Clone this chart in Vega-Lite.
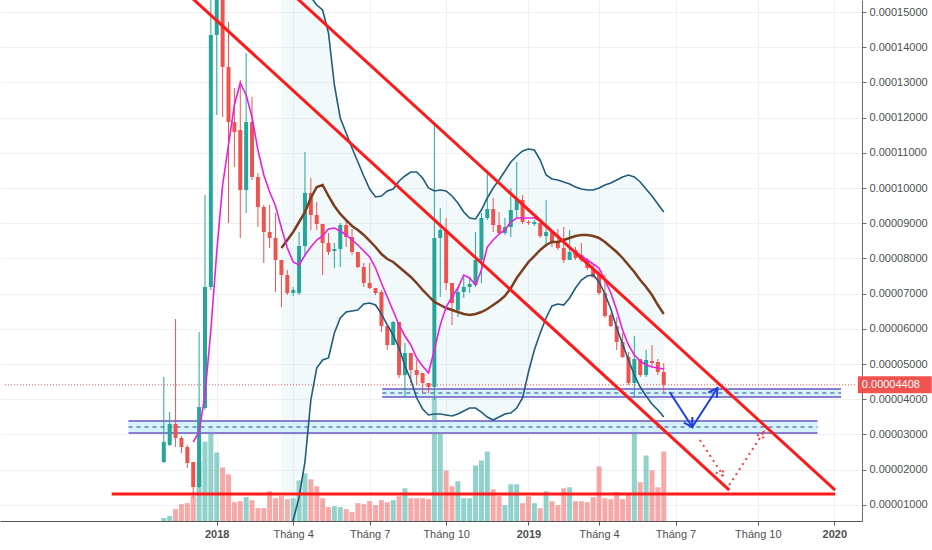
{
  "$schema": "https://vega.github.io/schema/vega-lite/v6.json",
  "width": 862,
  "height": 521,
  "autosize": {"type": "none"},
  "padding": {"left": 0, "top": 0, "right": 70, "bottom": 29},
  "background": "white",
  "config": {
    "view": {"stroke": null},
    "font": "Liberation Sans",
    "axis": {"labelFont": "Liberation Sans"}
  },
  "datasets": {
    "candles": [
      {"d": "2017-10-30", "o": 2216, "h": 4631, "l": 2188, "c": 2784, "v": 3, "ema": null},
      {"d": "2017-11-06", "o": 2699, "h": 3637, "l": 2670, "c": 3296, "v": 5, "ema": null},
      {"d": "2017-11-13", "o": 3296, "h": 6279, "l": 2642, "c": 2898, "v": 12, "ema": null},
      {"d": "2017-11-20", "o": 2898, "h": 2950, "l": 2472, "c": 2642, "v": 17, "ema": null},
      {"d": "2017-11-27", "o": 2642, "h": 2700, "l": 2045, "c": 2188, "v": 18, "ema": null},
      {"d": "2017-12-04", "o": 2216, "h": 2216, "l": 1222, "c": 1506, "v": 25, "ema": 2784},
      {"d": "2017-12-11", "o": 1506, "h": 5909, "l": 1477, "c": 3779, "v": 60, "ema": 3068},
      {"d": "2017-12-18", "o": 3750, "h": 9801, "l": 3700, "c": 7188, "v": 80, "ema": 4119},
      {"d": "2017-12-25", "o": 7188, "h": 15600, "l": 7100, "c": 14347, "v": 96, "ema": 5966},
      {"d": "2018-01-01", "o": 14347, "h": 16500, "l": 12074, "c": 15800, "v": 69, "ema": 8182},
      {"d": "2018-01-08", "o": 15800, "h": 16200, "l": 12017, "c": 13438, "v": 54, "ema": 10086},
      {"d": "2018-01-15", "o": 13438, "h": 14716, "l": 9006, "c": 11875, "v": 47, "ema": 11222},
      {"d": "2018-01-22", "o": 11875, "h": 12841, "l": 10597, "c": 11591, "v": 19, "ema": 12358},
      {"d": "2018-01-29", "o": 11648, "h": 13069, "l": 8580, "c": 9944, "v": 20, "ema": 12983},
      {"d": "2018-02-05", "o": 9944, "h": 13836, "l": 9290, "c": 11875, "v": 24, "ema": 12642},
      {"d": "2018-02-12", "o": 11875, "h": 12586, "l": 10228, "c": 10313, "v": 21, "ema": 12017},
      {"d": "2018-02-19", "o": 10313, "h": 10427, "l": 8893, "c": 9461, "v": 13, "ema": 11080},
      {"d": "2018-02-26", "o": 9461, "h": 9518, "l": 7870, "c": 8750, "v": 13, "ema": 10370},
      {"d": "2018-03-05", "o": 8750, "h": 9518, "l": 8296, "c": 8580, "v": 30, "ema": 9887},
      {"d": "2018-03-12", "o": 8580, "h": 9290, "l": 7046, "c": 7955, "v": 23, "ema": 9489},
      {"d": "2018-03-19", "o": 7955, "h": 7955, "l": 6620, "c": 7529, "v": 25, "ema": 8864},
      {"d": "2018-03-26", "o": 7529, "h": 7670, "l": 6960, "c": 7017, "v": 22, "ema": 8296},
      {"d": "2018-04-02", "o": 7017, "h": 7188, "l": 6932, "c": 7103, "v": 23, "ema": 7898},
      {"d": "2018-04-09", "o": 7017, "h": 8750, "l": 6960, "c": 8352, "v": 41, "ema": 7813},
      {"d": "2018-04-16", "o": 8352, "h": 11023, "l": 8040, "c": 9858, "v": 48, "ema": 8097},
      {"d": "2018-04-23", "o": 9858, "h": 10285, "l": 8807, "c": 9233, "v": 42, "ema": 8324},
      {"d": "2018-04-30", "o": 9233, "h": 9603, "l": 8807, "c": 8978, "v": 35, "ema": 8523},
      {"d": "2018-05-07", "o": 8978, "h": 8978, "l": 7529, "c": 8438, "v": 23, "ema": 8637},
      {"d": "2018-05-14", "o": 8438, "h": 8722, "l": 8097, "c": 8182, "v": 14, "ema": 8836},
      {"d": "2018-05-21", "o": 8210, "h": 8438, "l": 7728, "c": 8267, "v": 15, "ema": 8864},
      {"d": "2018-05-28", "o": 8267, "h": 9006, "l": 7756, "c": 8949, "v": 14, "ema": 8779},
      {"d": "2018-06-04", "o": 8949, "h": 9091, "l": 8324, "c": 8608, "v": 12, "ema": 8665},
      {"d": "2018-06-11", "o": 8608, "h": 8835, "l": 8097, "c": 8182, "v": 9, "ema": 8523},
      {"d": "2018-06-18", "o": 8182, "h": 8182, "l": 7728, "c": 7756, "v": 18, "ema": 8381},
      {"d": "2018-06-25", "o": 7756, "h": 7870, "l": 7188, "c": 7301, "v": 17, "ema": 8210},
      {"d": "2018-07-02", "o": 7301, "h": 7870, "l": 7130, "c": 7159, "v": 20, "ema": 8040},
      {"d": "2018-07-09", "o": 7159, "h": 7159, "l": 6960, "c": 7017, "v": 16, "ema": 7728},
      {"d": "2018-07-16", "o": 7046, "h": 7102, "l": 5909, "c": 6080, "v": 21, "ema": 7301},
      {"d": "2018-07-23", "o": 6080, "h": 6080, "l": 5398, "c": 5540, "v": 19, "ema": 6904},
      {"d": "2018-07-30", "o": 5540, "h": 6222, "l": 5540, "c": 6193, "v": 21, "ema": 6506},
      {"d": "2018-08-06", "o": 6193, "h": 6193, "l": 4602, "c": 4688, "v": 25, "ema": 6108},
      {"d": "2018-08-13", "o": 4688, "h": 5597, "l": 4063, "c": 5313, "v": 33, "ema": 5796},
      {"d": "2018-08-20", "o": 5313, "h": 5313, "l": 4460, "c": 4830, "v": 23, "ema": 5540},
      {"d": "2018-08-27", "o": 4830, "h": 5114, "l": 4404, "c": 4688, "v": 23, "ema": 5171},
      {"d": "2018-09-03", "o": 4744, "h": 4744, "l": 4176, "c": 4460, "v": 23, "ema": 4943},
      {"d": "2018-09-10", "o": 4460, "h": 4460, "l": 4176, "c": 4347, "v": 22, "ema": 4744},
      {"d": "2018-09-17", "o": 4347, "h": 11790, "l": 3977, "c": 8580, "v": 132, "ema": 5398},
      {"d": "2018-09-24", "o": 8580, "h": 9432, "l": 6904, "c": 8807, "v": 88, "ema": 6108},
      {"d": "2018-10-01", "o": 8807, "h": 9148, "l": 7102, "c": 7301, "v": 51, "ema": 6620},
      {"d": "2018-10-08", "o": 7301, "h": 7301, "l": 6108, "c": 6733, "v": 35, "ema": 6904},
      {"d": "2018-10-15", "o": 6534, "h": 7188, "l": 6335, "c": 7046, "v": 40, "ema": 7159},
      {"d": "2018-10-22", "o": 7046, "h": 7472, "l": 6875, "c": 7188, "v": 23, "ema": 7529},
      {"d": "2018-10-29", "o": 7188, "h": 7472, "l": 7017, "c": 7273, "v": 23, "ema": 7443},
      {"d": "2018-11-05", "o": 7244, "h": 8750, "l": 7188, "c": 7955, "v": 56, "ema": 7245},
      {"d": "2018-11-12", "o": 7955, "h": 9290, "l": 7301, "c": 9148, "v": 61, "ema": 7671},
      {"d": "2018-11-19", "o": 9148, "h": 10512, "l": 9091, "c": 9404, "v": 70, "ema": 8324},
      {"d": "2018-11-26", "o": 9404, "h": 9716, "l": 8750, "c": 8949, "v": 32, "ema": 8523},
      {"d": "2018-12-03", "o": 8949, "h": 9318, "l": 8665, "c": 8722, "v": 25, "ema": 8693},
      {"d": "2018-12-10", "o": 8722, "h": 9148, "l": 8665, "c": 8892, "v": 16, "ema": 8807},
      {"d": "2018-12-17", "o": 8892, "h": 10000, "l": 8608, "c": 9375, "v": 37, "ema": 9034},
      {"d": "2018-12-24", "o": 9375, "h": 10739, "l": 9176, "c": 9659, "v": 37, "ema": 9148},
      {"d": "2018-12-31", "o": 9659, "h": 9801, "l": 8978, "c": 9034, "v": 18, "ema": 9148},
      {"d": "2019-01-07", "o": 9034, "h": 9091, "l": 8949, "c": 9006, "v": 25, "ema": 9148},
      {"d": "2019-01-14", "o": 8978, "h": 9091, "l": 8921, "c": 9034, "v": 18, "ema": 9148},
      {"d": "2019-01-21", "o": 9006, "h": 9091, "l": 8580, "c": 8637, "v": 13, "ema": 9063},
      {"d": "2019-01-28", "o": 8637, "h": 9659, "l": 8324, "c": 8750, "v": 30, "ema": 8892},
      {"d": "2019-02-04", "o": 8750, "h": 8807, "l": 8324, "c": 8438, "v": 20, "ema": 8750},
      {"d": "2019-02-11", "o": 8466, "h": 8835, "l": 8239, "c": 8296, "v": 16, "ema": 8637},
      {"d": "2019-02-18", "o": 8296, "h": 8892, "l": 7870, "c": 7955, "v": 33, "ema": 8495},
      {"d": "2019-02-25", "o": 7955, "h": 8807, "l": 7955, "c": 8182, "v": 34, "ema": 8324},
      {"d": "2019-03-04", "o": 8239, "h": 8324, "l": 7955, "c": 8011, "v": 20, "ema": 8182},
      {"d": "2019-03-11", "o": 8097, "h": 8438, "l": 7898, "c": 7955, "v": 20, "ema": 8068},
      {"d": "2019-03-18", "o": 7955, "h": 8011, "l": 7671, "c": 7728, "v": 19, "ema": 7955},
      {"d": "2019-03-25", "o": 7728, "h": 7813, "l": 7443, "c": 7472, "v": 24, "ema": 7841},
      {"d": "2019-04-01", "o": 7529, "h": 7671, "l": 6960, "c": 7017, "v": 55, "ema": 7728},
      {"d": "2019-04-08", "o": 7017, "h": 7529, "l": 6307, "c": 6364, "v": 23, "ema": 7387},
      {"d": "2019-04-15", "o": 6392, "h": 6449, "l": 6051, "c": 6080, "v": 22, "ema": 7017},
      {"d": "2019-04-22", "o": 6080, "h": 6335, "l": 5398, "c": 5625, "v": 29, "ema": 6534},
      {"d": "2019-04-29", "o": 5625, "h": 5881, "l": 5171, "c": 5199, "v": 22, "ema": 5966},
      {"d": "2019-05-06", "o": 5199, "h": 5341, "l": 4404, "c": 4460, "v": 28, "ema": 5540},
      {"d": "2019-05-13", "o": 4460, "h": 5796, "l": 4063, "c": 5142, "v": 96, "ema": 5256},
      {"d": "2019-05-20", "o": 5142, "h": 5142, "l": 4631, "c": 4688, "v": 39, "ema": 5085},
      {"d": "2019-05-27", "o": 4688, "h": 5398, "l": 4631, "c": 5114, "v": 66, "ema": 4972},
      {"d": "2019-06-03", "o": 5085, "h": 5540, "l": 4915, "c": 5028, "v": 51, "ema": 4915},
      {"d": "2019-06-10", "o": 5057, "h": 5142, "l": 4688, "c": 4773, "v": 34, "ema": 4887},
      {"d": "2019-06-17", "o": 4773, "h": 5028, "l": 4205, "c": 4408, "v": 70, "ema": 4858}
    ],
    "bands": [
      {"d": "2018-03-19", "bbu": 19603, "bbm": 8296, "bbl": -2273},
      {"d": "2018-03-26", "bbu": 18182, "bbm": 8523, "bbl": -568},
      {"d": "2018-04-02", "bbu": 17046, "bbm": 8750, "bbl": 568},
      {"d": "2018-04-09", "bbu": 16336, "bbm": 9034, "bbl": 1222},
      {"d": "2018-04-16", "bbu": 15768, "bbm": 9318, "bbl": 2216},
      {"d": "2018-04-23", "bbu": 15427, "bbm": 9716, "bbl": 3977},
      {"d": "2018-04-30", "bbu": 15199, "bbm": 10029, "bbl": 4887},
      {"d": "2018-05-07", "bbu": 15057, "bbm": 10086, "bbl": 5114},
      {"d": "2018-05-14", "bbu": 14404, "bbm": 9773, "bbl": 5171},
      {"d": "2018-05-21", "bbu": 12927, "bbm": 9489, "bbl": 5881},
      {"d": "2018-05-28", "bbu": 11989, "bbm": 9262, "bbl": 6307},
      {"d": "2018-06-04", "bbu": 11563, "bbm": 9091, "bbl": 6477},
      {"d": "2018-06-11", "bbu": 11137, "bbm": 8921, "bbl": 6506},
      {"d": "2018-06-18", "bbu": 10739, "bbm": 8807, "bbl": 6534},
      {"d": "2018-06-25", "bbu": 10341, "bbm": 8665, "bbl": 6705},
      {"d": "2018-07-02", "bbu": 9972, "bbm": 8495, "bbl": 6733},
      {"d": "2018-07-09", "bbu": 9745, "bbm": 8324, "bbl": 6676},
      {"d": "2018-07-16", "bbu": 9773, "bbm": 8125, "bbl": 6421},
      {"d": "2018-07-23", "bbu": 9915, "bbm": 7983, "bbl": 6108},
      {"d": "2018-07-30", "bbu": 9972, "bbm": 7898, "bbl": 5824},
      {"d": "2018-08-06", "bbu": 10199, "bbm": 7756, "bbl": 5455},
      {"d": "2018-08-13", "bbu": 10341, "bbm": 7614, "bbl": 4943},
      {"d": "2018-08-20", "bbu": 10455, "bbm": 7472, "bbl": 4546},
      {"d": "2018-08-27", "bbu": 10455, "bbm": 7301, "bbl": 4034},
      {"d": "2018-09-03", "bbu": 10284, "bbm": 7103, "bbl": 3722},
      {"d": "2018-09-10", "bbu": 10000, "bbm": 6932, "bbl": 3551},
      {"d": "2018-09-17", "bbu": 9915, "bbm": 6762, "bbl": 3580},
      {"d": "2018-09-24", "bbu": 9944, "bbm": 6676, "bbl": 3580},
      {"d": "2018-10-01", "bbu": 9915, "bbm": 6591, "bbl": 3551},
      {"d": "2018-10-08", "bbu": 9773, "bbm": 6534, "bbl": 3523},
      {"d": "2018-10-15", "bbu": 9574, "bbm": 6477, "bbl": 3580},
      {"d": "2018-10-22", "bbu": 9318, "bbm": 6421, "bbl": 3665},
      {"d": "2018-10-29", "bbu": 9148, "bbm": 6392, "bbl": 3750},
      {"d": "2018-11-05", "bbu": 9120, "bbm": 6421, "bbl": 3750},
      {"d": "2018-11-12", "bbu": 9375, "bbm": 6477, "bbl": 3636},
      {"d": "2018-11-19", "bbu": 9716, "bbm": 6563, "bbl": 3494},
      {"d": "2018-11-26", "bbu": 10000, "bbm": 6676, "bbl": 3409},
      {"d": "2018-12-03", "bbu": 10228, "bbm": 6790, "bbl": 3494},
      {"d": "2018-12-10", "bbu": 10483, "bbm": 6932, "bbl": 3580},
      {"d": "2018-12-17", "bbu": 10739, "bbm": 7159, "bbl": 3608},
      {"d": "2018-12-24", "bbu": 10909, "bbm": 7443, "bbl": 3750},
      {"d": "2018-12-31", "bbu": 11051, "bbm": 7671, "bbl": 4034},
      {"d": "2019-01-07", "bbu": 11108, "bbm": 7898, "bbl": 4773},
      {"d": "2019-01-14", "bbu": 11080, "bbm": 8068, "bbl": 5398},
      {"d": "2019-01-21", "bbu": 10796, "bbm": 8239, "bbl": 5881},
      {"d": "2019-01-28", "bbu": 10370, "bbm": 8381, "bbl": 6307},
      {"d": "2019-02-04", "bbu": 10256, "bbm": 8466, "bbl": 6648},
      {"d": "2019-02-11", "bbu": 10228, "bbm": 8466, "bbl": 6705},
      {"d": "2019-02-18", "bbu": 10171, "bbm": 8523, "bbl": 6676},
      {"d": "2019-02-25", "bbu": 10114, "bbm": 8580, "bbl": 6875},
      {"d": "2019-03-04", "bbu": 10029, "bbm": 8637, "bbl": 7159},
      {"d": "2019-03-11", "bbu": 9972, "bbm": 8665, "bbl": 7387},
      {"d": "2019-03-18", "bbu": 9944, "bbm": 8665, "bbl": 7500},
      {"d": "2019-03-25", "bbu": 9944, "bbm": 8637, "bbl": 7529},
      {"d": "2019-04-01", "bbu": 10000, "bbm": 8580, "bbl": 7330},
      {"d": "2019-04-08", "bbu": 10086, "bbm": 8466, "bbl": 6989},
      {"d": "2019-04-15", "bbu": 10142, "bbm": 8324, "bbl": 6563},
      {"d": "2019-04-22", "bbu": 10228, "bbm": 8182, "bbl": 6023},
      {"d": "2019-04-29", "bbu": 10313, "bbm": 8012, "bbl": 5568},
      {"d": "2019-05-06", "bbu": 10370, "bbm": 7813, "bbl": 5114},
      {"d": "2019-05-13", "bbu": 10313, "bbm": 7614, "bbl": 4688},
      {"d": "2019-05-20", "bbu": 10171, "bbm": 7387, "bbl": 4347},
      {"d": "2019-05-27", "bbu": 9972, "bbm": 7188, "bbl": 4091},
      {"d": "2019-06-03", "bbu": 9773, "bbm": 6960, "bbl": 3864},
      {"d": "2019-06-10", "bbu": 9546, "bbm": 6676, "bbl": 3693},
      {"d": "2019-06-17", "bbu": 9318, "bbm": 6421, "bbl": 3494}
    ],
    "zones": [
      {"d": "2018-07-17", "d2": "2020-01-14", "top": 4290, "mid": 4176, "bot": 4063},
      {"d": "2017-09-18", "d2": "2019-12-17", "top": 3381, "mid": 3210, "bot": 3040}
    ],
    "trend": [
      {"id": "A", "n": 1, "d": "2017-11-21", "p": 15651},
      {"id": "A", "n": 2, "d": "2019-09-03", "p": 1420},
      {"id": "B", "n": 1, "d": "2018-03-28", "p": 15597},
      {"id": "B", "n": 2, "d": "2020-01-07", "p": 1420},
      {"id": "H", "n": 1, "d": "2017-08-29", "p": 1307},
      {"id": "H", "n": 2, "d": "2020-01-07", "p": 1307}
    ],
    "arrows": [
      {"id": "b1", "n": 1, "d": "2019-06-24", "p": 4205},
      {"id": "b1", "n": 2, "d": "2019-07-21", "p": 3210},
      {"id": "b1", "n": 3, "d": "2019-08-20", "p": 4318},
      {"id": "b2", "n": 1, "d": "2019-07-11", "p": 3338},
      {"id": "b2", "n": 2, "d": "2019-07-21", "p": 3210},
      {"id": "b2", "n": 3, "d": "2019-07-21", "p": 3494},
      {"id": "b3", "n": 1, "d": "2019-08-09", "p": 4188},
      {"id": "b3", "n": 2, "d": "2019-08-20", "p": 4318},
      {"id": "b3", "n": 3, "d": "2019-08-19", "p": 4034}
    ],
    "path": [
      {"id": "r1", "n": 1, "d": "2019-07-30", "p": 2841},
      {"id": "r1", "n": 2, "d": "2019-08-27", "p": 1818},
      {"id": "r1h", "n": 1, "d": "2019-08-18", "p": 1918},
      {"id": "r1h", "n": 2, "d": "2019-08-27", "p": 1818},
      {"id": "r1h", "n": 3, "d": "2019-08-26", "p": 2046},
      {"id": "r2", "n": 1, "d": "2019-09-03", "p": 1563},
      {"id": "r2", "n": 2, "d": "2019-10-14", "p": 3068},
      {"id": "r2h", "n": 1, "d": "2019-10-06", "p": 2966},
      {"id": "r2h", "n": 2, "d": "2019-10-14", "p": 3068},
      {"id": "r2h", "n": 3, "d": "2019-10-13", "p": 2841}
    ],
    "last": [
      {"d": "2017-04-24", "d2": "2020-02-02", "p": 4408}
    ],
    "tag": [
      {"d": "2020-02-03", "d2": "2020-05-01", "p": 4408, "label": "0.00004408"}
    ]
  },
  "encoding": {
    "x": {
      "field": "d",
      "type": "temporal",
      "scale": {
        "type": "utc",
        "domain": [
          {"year": 2017, "month": 4, "date": 24, "utc": true},
          {"year": 2020, "month": 2, "date": 2, "utc": true}
        ]
      },
      "axis": {
        "title": null,
        "values": [
          {"year": 2018, "month": 1, "date": 1, "utc": true},
          {"year": 2018, "month": 4, "date": 2, "utc": true},
          {"year": 2018, "month": 7, "date": 2, "utc": true},
          {"year": 2018, "month": 10, "date": 1, "utc": true},
          {"year": 2019, "month": 1, "date": 7, "utc": true},
          {"year": 2019, "month": 4, "date": 1, "utc": true},
          {"year": 2019, "month": 7, "date": 1, "utc": true},
          {"year": 2019, "month": 10, "date": 7, "utc": true},
          {"year": 2020, "month": 1, "date": 6, "utc": true}
        ],
        "labelExpr": "utcmonth(datum.value) == 0 ? utcFormat(datum.value, '%Y') : 'Tháng ' + (utcmonth(datum.value) + 1)",
        "labelFontWeight": {"condition": {"test": "utcmonth(datum.value) == 0", "value": "bold"}, "value": "normal"},
        "tickCount": 20,
        "grid": true,
        "gridColor": "#eef0f4",
        "domainColor": "#555555",
        "tickColor": "#555555",
        "tickSize": 4,
        "labelColor": "#4f4f4f",
        "labelFontSize": 11,
        "labelPadding": 3,
        "labelFlush": false
      }
    }
  },
  "layer": [
    {
      "data": {"name": "candles"},
      "mark": {"type": "bar", "size": 5, "opacity": 0.5},
      "encoding": {
        "y": {"field": "v", "type": "quantitative", "scale": {"domain": [0, 525]}, "axis": null},
        "color": {"condition": {"test": "datum.c >= datum.o", "value": "#26a69a"}, "value": "#ef5350"}
      }
    },
    {
      "layer": [
        {
          "data": {"name": "bands"},
          "mark": {"type": "area", "color": "#b5dde6", "opacity": 0.18, "clip": true},
          "encoding": {
            "y": {
              "field": "bbu",
              "type": "quantitative",
              "scale": {"domain": [540, 15341], "nice": false, "zero": false},
              "axis": {
                "orient": "right",
                "title": null,
                "values": [1000, 2000, 3000, 4000, 5000, 6000, 7000, 8000, 9000, 10000, 11000, 12000, 13000, 14000, 15000],
                "tickCount": 30,
                "labelExpr": "format(datum.value / 1e8, '.8f')",
                "labelOverlap": false,
                "grid": true,
                "gridColor": "#eef0f4",
                "domainColor": "#6a6d78",
                "tickColor": "#6a6d78",
                "tickSize": 4,
                "labelColor": "#4f4f4f",
                "labelFontSize": 11,
                "labelPadding": 3
              }
            },
            "y2": {"field": "bbl"}
          }
        },
        {
          "data": {"name": "zones"},
          "mark": {"type": "rect", "color": "#cdf0f8", "opacity": 0.85},
          "encoding": {
            "x2": {"field": "d2"},
            "y": {"field": "top", "type": "quantitative"},
            "y2": {"field": "bot"}
          }
        },
        {
          "data": {"name": "zones"},
          "mark": {"type": "rule", "color": "#8a7fce", "strokeWidth": 2},
          "encoding": {
            "x2": {"field": "d2"},
            "y": {"field": "top", "type": "quantitative"}
          }
        },
        {
          "data": {"name": "zones"},
          "mark": {"type": "rule", "color": "#8a7fce", "strokeWidth": 2},
          "encoding": {
            "x2": {"field": "d2"},
            "y": {"field": "bot", "type": "quantitative"}
          }
        },
        {
          "data": {"name": "zones"},
          "mark": {"type": "rule", "color": "#3b3f9a", "strokeWidth": 1, "strokeDash": [4, 4]},
          "encoding": {
            "x2": {"field": "d2"},
            "y": {"field": "mid", "type": "quantitative"}
          }
        },
        {
          "data": {"name": "last"},
          "mark": {"type": "rule", "color": "#ef5350", "strokeWidth": 1, "strokeDash": [1, 2]},
          "encoding": {
            "x2": {"field": "d2"},
            "y": {"field": "p", "type": "quantitative"}
          }
        },
        {
          "data": {"name": "candles"},
          "mark": {"type": "rule", "strokeWidth": 1, "clip": true},
          "encoding": {
            "y": {"field": "l", "type": "quantitative"},
            "y2": {"field": "h"},
            "color": {"condition": {"test": "datum.c >= datum.o", "value": "#26a69a"}, "value": "#ef5350"}
          }
        },
        {
          "data": {"name": "candles"},
          "mark": {"type": "bar", "size": 4, "clip": true},
          "encoding": {
            "y": {"field": "o", "type": "quantitative"},
            "y2": {"field": "c"},
            "color": {"condition": {"test": "datum.c >= datum.o", "value": "#26a69a"}, "value": "#ef5350"}
          }
        },
        {
          "data": {"name": "bands"},
          "mark": {"type": "line", "color": "#1f5d7b", "strokeWidth": 1.6, "clip": true},
          "encoding": {"y": {"field": "bbu", "type": "quantitative"}}
        },
        {
          "data": {"name": "bands"},
          "mark": {"type": "line", "color": "#1f5d7b", "strokeWidth": 1.6, "clip": true},
          "encoding": {"y": {"field": "bbl", "type": "quantitative"}}
        },
        {
          "data": {"name": "bands"},
          "mark": {"type": "line", "color": "#7a3e1f", "strokeWidth": 2.5, "clip": true},
          "encoding": {"y": {"field": "bbm", "type": "quantitative"}}
        },
        {
          "data": {"name": "candles"},
          "mark": {"type": "line", "color": "#e81ee6", "strokeWidth": 1.6, "clip": true},
          "encoding": {"y": {"field": "ema", "type": "quantitative"}}
        },
        {
          "data": {"name": "trend"},
          "mark": {"type": "line", "color": "#ff1a1a", "strokeWidth": 3, "clip": true},
          "encoding": {
            "y": {"field": "p", "type": "quantitative"},
            "detail": {"field": "id"},
            "order": {"field": "n"}
          }
        },
        {
          "data": {"name": "arrows"},
          "mark": {"type": "line", "color": "#1e3fe0", "strokeWidth": 2, "clip": true},
          "encoding": {
            "y": {"field": "p", "type": "quantitative"},
            "detail": {"field": "id"},
            "order": {"field": "n"}
          }
        },
        {
          "data": {"name": "path"},
          "mark": {"type": "line", "color": "#ff3b3b", "strokeWidth": 2, "strokeDash": [2, 4], "clip": true},
          "encoding": {
            "y": {"field": "p", "type": "quantitative"},
            "detail": {"field": "id"},
            "order": {"field": "n"}
          }
        },
        {
          "data": {"name": "tag"},
          "mark": {"type": "rule", "color": "#ef5350", "strokeWidth": 17},
          "encoding": {
            "x2": {"field": "d2"},
            "y": {"field": "p", "type": "quantitative"}
          }
        },
        {
          "data": {"name": "tag"},
          "mark": {"type": "text", "color": "white", "fontSize": 11, "align": "left", "baseline": "middle", "dx": 4, "font": "Liberation Sans"},
          "encoding": {
            "y": {"field": "p", "type": "quantitative"},
            "text": {"field": "label"}
          }
        }
      ]
    }
  ],
  "resolve": {"scale": {"y": "independent"}}
}
